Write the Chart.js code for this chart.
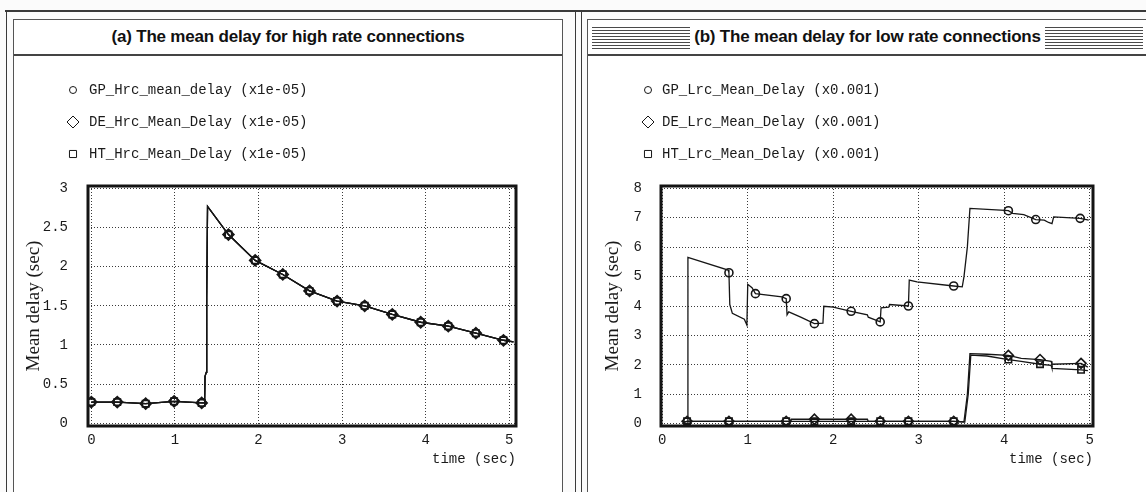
<!DOCTYPE html>
<html>
<head>
<meta charset="utf-8">
<script src="https://cdn.jsdelivr.net/npm/chart.js@4.4.1/dist/chart.umd.min.js"></script>
<style>
  body { margin:0; width:1146px; height:492px; overflow:hidden; position:relative; background:#fbfbfb; }
  .ln { position:absolute; background:#3a3a3a; }
  .panel { position:absolute; top:19px; height:473px; background:#fff; border-top:1px solid #555; }
  .titlebar { position:absolute; left:0; right:0; top:0; height:34px; border-bottom:2px solid #444;
              display:flex; align-items:center; justify-content:center;
              font:bold 17px "Liberation Sans", Arial, sans-serif; letter-spacing:-0.2px; color:#111; }
  .hatch { flex:1; height:23px; margin:3px 4px 0 4px;
           background:repeating-linear-gradient(to bottom, #4a4a4a 0 1px, transparent 1px 3px); }
  canvas { position:absolute; }
</style>
</head>
<body>
<div class="ln" style="left:5px;top:10px;width:1141px;height:2px"></div>
<div class="ln" style="left:6px;top:11px;width:1px;height:481px"></div>
<div class="panel" style="left:13px;width:548px;border-left:1px solid #555;border-right:1px solid #555">
  <div class="titlebar">(a) The mean delay for high rate connections</div>
</div>
<div class="ln" style="left:575px;top:11px;width:1px;height:481px"></div>
<div class="ln" style="left:581px;top:11px;width:1px;height:481px"></div>
<div class="panel" style="left:587px;width:559px;border-left:1px solid #555">
  <div class="titlebar"><div class="hatch"></div><span>(b) The mean delay for low rate connections</span><div class="hatch"></div></div>
</div>
<canvas id="chartA" width="548" height="436" style="left:14px;top:56px"></canvas>
<canvas id="chartB" width="558" height="436" style="left:588px;top:56px"></canvas>
<script>
// (a) high rate connections, values in units of 1e-05 s
var hrcTime = [0.0, 0.31, 0.65, 0.99, 1.32, 1.355, 1.36, 1.375, 1.38, 1.39, 1.64, 1.96, 2.29, 2.61, 2.94, 3.27, 3.60, 3.94, 4.27, 4.60, 4.93, 5.05];
var gpHrc   = [0.27, 0.27, 0.25, 0.28, 0.26, 0.26, 0.60, 0.65, 1.60, 2.77, 2.41, 2.08, 1.90, 1.69, 1.56, 1.50, 1.39, 1.29, 1.24, 1.15, 1.06, 1.04];
var deHrc   = [0.27, 0.27, 0.25, 0.28, 0.26, 0.26, 0.60, 0.65, 1.60, 2.77, 2.41, 2.08, 1.90, 1.69, 1.56, 1.50, 1.39, 1.29, 1.24, 1.15, 1.06, 1.04];
var htHrc   = [0.27, 0.27, 0.25, 0.28, 0.26, 0.26, 0.60, 0.65, 1.60, 2.77, 2.41, 2.08, 1.90, 1.69, 1.56, 1.50, 1.39, 1.29, 1.24, 1.15, 1.06, 1.04];
var hrcMarks = [1,1,1,1,1, 0,0,0,0,0, 1,1,1,1,1, 1,1,1,1,1, 1,0];

// (b) low rate connections, values in units of 0.001 s
var gpLrcTime = [0.25, 0.29, 0.30, 0.77, 0.78, 0.79, 0.82, 0.96, 0.99, 1.00, 1.05, 1.09, 1.40, 1.45, 1.46, 1.48, 1.62, 1.78, 1.88, 1.89,
                 2.00, 2.21, 2.40, 2.41, 2.55, 2.56, 2.65, 2.66, 2.88, 2.89, 2.98, 3.41, 3.51, 3.53, 3.57, 3.60, 4.01, 4.05, 4.10, 4.23,
                 4.37, 4.47, 4.52, 4.56, 4.58, 4.89, 4.99];
var gpLrc     = [0.0, 0.0, 5.65, 5.22, 5.13, 4.05, 3.75, 3.55, 3.35, 4.74, 4.62, 4.42, 4.31, 4.25, 3.70, 3.80, 3.62, 3.40, 3.42, 3.99,
                 3.96, 3.82, 3.70, 3.62, 3.46, 3.94, 3.96, 4.05, 4.00, 4.88, 4.82, 4.68, 4.65, 4.99, 6.01, 7.32, 7.25, 7.24, 7.15, 7.11,
                 6.94, 6.92, 6.84, 6.80, 7.03, 6.98, 6.92];
var gpLrcMarks = [0,0,0,0,1, 0,0,0,0,0, 0,1,0,1,0, 0,0,1,0,0, 0,1,0,0,1, 0,0,0,1,0, 0,1,0,0,0, 0,0,1,0,0, 1,0,0,0,0, 1,0];

var deLrcTime = [0.25, 0.29, 0.78, 1.45, 1.50, 1.51, 1.78, 2.21, 2.40, 2.41, 2.55, 2.88, 3.41, 3.53, 3.57, 3.60, 3.80, 4.05, 4.20, 4.42,
                 4.55, 4.56, 4.90, 4.98];
var deLrc     = [0.05, 0.08, 0.08, 0.08, 0.08, 0.15, 0.15, 0.15, 0.15, 0.08, 0.08, 0.08, 0.08, 0.06, 1.00, 2.38, 2.36, 2.32, 2.22, 2.18,
                 2.12, 2.02, 2.05, 1.92];
var deLrcMarks = [0,1,1,1,0, 0,1,1,0,0, 1,1,1,0,0, 0,0,1,0,1, 0,0,1,0];

var htLrcTime = [0.25, 0.29, 0.78, 1.45, 1.78, 2.21, 2.55, 2.88, 3.41, 3.54, 3.58, 3.61, 3.80, 4.05, 4.20, 4.42, 4.55, 4.56, 4.90, 4.98];
var htLrc     = [0.04, 0.08, 0.08, 0.08, 0.08, 0.08, 0.08, 0.08, 0.08, 0.05, 1.00, 2.33, 2.30, 2.18, 2.12, 2.02, 1.98, 1.88, 1.83, 1.80];
var htLrcMarks = [0,1,1,1,1, 1,1,1,1,0, 0,0,0,1,0, 1,0,0,1,0];

var timeTicks = [0, 1, 2, 3, 4, 5];
var hrcTicks = [0, 0.5, 1, 1.5, 2, 2.5, 3];
var lrcTicks = [0, 1, 2, 3, 4, 5, 6, 7, 8];

var monoFont = {family: '"Liberation Mono", monospace', size: 14};

function toPoints(xs, ys){
  return xs.map(function(x, i){ return {x: x, y: ys[i]}; });
}

function series(label, xs, ys, marks, style, radius){
  return {
    label: label,
    data: toPoints(xs, ys),
    showLine: true,
    borderColor: '#161616',
    borderWidth: 1.3,
    tension: 0,
    pointStyle: style,
    legendRadius: style == 'rectRot' ? 6 : (style == 'rect' ? 5 : 3.5),
    pointRadius: function(c){ return marks[c.dataIndex] ? radius : 0; },
    pointBorderColor: '#161616',
    pointBorderWidth: 1.6,
    pointBackgroundColor: 'rgba(0,0,0,0)'
  };
}

// legend drawn as one entry per row above the plot
var rowLegend = {
  id: 'rowLegend',
  afterDraw: function(chart, args, opts){
    var ctx = chart.ctx;
    ctx.save();
    chart.data.datasets.forEach(function(ds, i){
      var y = opts.top + i * opts.gap;
      ctx.strokeStyle = '#161616';
      ctx.fillStyle = 'rgba(0,0,0,0)';
      Chart.helpers.drawPoint(ctx, {pointStyle: ds.pointStyle, radius: ds.legendRadius, borderWidth: 1.6, rotation: 0}, opts.markX, y);
      ctx.fillStyle = '#1a1a1a';
      ctx.font = '14px "Liberation Mono", monospace';
      ctx.textBaseline = 'middle';
      ctx.fillText(ds.label, opts.textX, y);
    });
    ctx.restore();
  }
};

var plotFrame = {
  id: 'plotFrame',
  afterDraw: function(chart){
    var a = chart.chartArea, ctx = chart.ctx;
    ctx.save();
    ctx.lineWidth = 3;
    ctx.strokeStyle = '#141414';
    ctx.strokeRect(a.left, a.top, a.right - a.left, a.bottom - a.top);
    ctx.restore();
  }
};

function makeConfig(datasets, xMin, xMax, yMin, yMax, yTicks, o){
  return {
    type: 'scatter',
    data: {datasets: datasets},
    plugins: [rowLegend, plotFrame],
    options: {
      responsive: false,
      animation: false,
      layout: {padding: {top: 130, left: 0, right: o.right, bottom: 0}},
      plugins: {
        legend: {display: false},
        tooltip: {enabled: false},
        rowLegend: {top: 34, gap: 32, markX: o.markX, textX: o.textX}
      },
      scales: {
        x: {
          type: 'linear', min: xMin, max: xMax,
          afterBuildTicks: function(s){ s.ticks = timeTicks.map(function(v){ return {value: v}; }); },
          afterFit: function(s){ s.height = 66; },
          grid: {color: '#3a3a3a', lineWidth: 1, drawTicks: false},
          border: {display: false, dash: [1, 2]},
          ticks: {font: monoFont, color: '#1a1a1a', padding: 6, maxRotation: 0, callback: function(v){ return String(v); }},
          title: {display: true, text: 'time (sec)', align: 'end', font: monoFont, color: '#1a1a1a', padding: {top: 0, bottom: 24}}
        },
        y: {
          type: 'linear', min: yMin, max: yMax,
          afterBuildTicks: function(s){ s.ticks = yTicks.map(function(v){ return {value: v}; }); },
          afterFit: function(s){ s.width = o.yWidth; },
          grid: {color: '#3a3a3a', lineWidth: 1, drawTicks: false},
          border: {display: false, dash: [1, 2]},
          ticks: {font: monoFont, color: '#1a1a1a', padding: o.tickPad, callback: function(v){ return String(v); }},
          title: {display: true, text: 'Mean delay (sec)', font: {family: '"Liberation Serif", serif', size: 19},
                  color: '#1a1a1a', padding: {top: o.titlePad, bottom: 0}}
        }
      }
    }
  };
}

window.onload = function(){
  var dsA = [
    series('GP_Hrc_mean_delay (x1e-05)', hrcTime, gpHrc, hrcMarks, 'circle', 4),
    series('DE_Hrc_Mean_Delay (x1e-05)', hrcTime, deHrc, hrcMarks, 'rectRot', 5.5),
    series('HT_Hrc_Mean_Delay (x1e-05)', hrcTime, htHrc, hrcMarks, 'rect', 4.5)
  ];
  new Chart(document.getElementById('chartA').getContext('2d'),
    makeConfig(dsA, -0.04, 5.08, -0.035, 3.03, hrcTicks,
      {right: 46, yWidth: 74, tickPad: 20, titlePad: 9, markX: 59, textX: 75}));

  var dsB = [
    series('GP_Lrc_Mean_Delay (x0.001)', gpLrcTime, gpLrc, gpLrcMarks, 'circle', 4),
    series('DE_Lrc_Mean_Delay (x0.001)', deLrcTime, deLrc, deLrcMarks, 'rectRot', 5),
    series('HT_Lrc_Mean_Delay (x0.001)', htLrcTime, htLrc, htLrcMarks, 'rect', 4.5)
  ];
  new Chart(document.getElementById('chartB').getContext('2d'),
    makeConfig(dsB, -0.015, 5.04, -0.08, 8.08, lrcTicks,
      {right: 53, yWidth: 73, tickPad: 19, titlePad: 14, markX: 60, textX: 74}));
};
</script>
</body>
</html>
